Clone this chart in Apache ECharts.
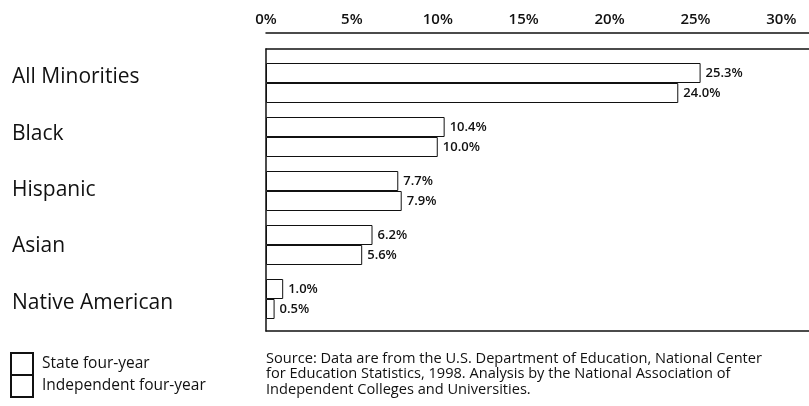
<!DOCTYPE html>
<html lang="en">
<head>
  <meta charset="UTF-8">
  <title>Minority enrollment</title>
  <script src="https://cdn.jsdelivr.net/npm/echarts@6/dist/echarts.min.js"></script>
  <style>
    html, body { margin: 0; padding: 0; background: #fff; }
    #chart { width: 809px; height: 406px; }
  </style>
</head>
<body>
<div id="chart"></div>
<script>
  var categories = ['All Minorities', 'Black', 'Hispanic', 'Asian', 'Native American'];
  var seriesNames = ['State four-year', 'Independent four-year'];
  var stateValues = [25.3, 10.4, 7.7, 6.2, 1.0];
  var independentValues = [24.0, 10.0, 7.9, 5.6, 0.5];
  var axisMax = 32.6;
  var tickStep = 5;
  var sourceNote = 'Source: Data are from the U.S. Department of Education, National Center\n' +
    'for Education Statistics, 1998. Analysis by the National Association of\n' +
    'Independent Colleges and Universities.';

  var font = '"Open Sans", "Noto Sans", sans-serif';
  var ink = '#111';

  var myChart = echarts.init(document.getElementById('chart'));

  function barSeries(name, values) {
    return {
      name: name,
      type: 'bar',
      xAxisIndex: 0,
      yAxisIndex: 0,
      data: values,
      barWidth: 20,
      barGap: '0%',
      itemStyle: { color: '#fff', borderColor: ink, borderWidth: 1 },
      label: {
        show: true,
        position: 'right',
        distance: 5,
        color: ink,
        fontFamily: font,
        fontSize: 13,
        fontWeight: 600,
        formatter: function (p) { return p.value.toFixed(1) + '%'; }
      },
      emphasis: { disabled: true }
    };
  }

  function legendFor(name, top) {
    return {
      orient: 'vertical',
      left: 10,
      top: top,
      padding: 0,
      itemWidth: 22,
      itemHeight: 22,
      icon: 'rect',
      selectedMode: false,
      textStyle: { color: ink, fontSize: 15.5, fontFamily: font, padding: [0, 0, 0, 4] },
      data: [name]
    };
  }

  // frame lines (top, bottom, left) come from the axes of grid 1
  function frameX(pos) {
    return {
      type: 'value', gridIndex: 1, position: pos, min: 0, max: axisMax,
      axisLine: { show: true, onZero: false, lineStyle: { color: ink, width: 1.5 } },
      axisTick: { show: false }, axisLabel: { show: false }, splitLine: { show: false }
    };
  }

  var option = {
    animation: false,
    backgroundColor: '#fff',
    textStyle: { fontFamily: font },
    grid: [
      { left: 266, width: 560, top: 56, height: 270, outerBoundsMode: 'none' },
      { left: 266, width: 560, top: 49, height: 282, outerBoundsMode: 'none' }
    ],
    xAxis: [
      {
        type: 'value',
        gridIndex: 0,
        position: 'top',
        offset: 23,
        min: 0,
        max: axisMax,
        interval: tickStep,
        axisLine: { show: true, onZero: false, lineStyle: { color: ink, width: 1.5 } },
        axisTick: { show: false },
        splitLine: { show: false },
        axisLabel: {
          margin: 6,
          color: ink,
          fontSize: 15,
          fontWeight: 600,
          fontFamily: font,
          formatter: function (v) { return v % tickStep === 0 ? v + '%' : ''; }
        }
      },
      frameX('top'),
      frameX('bottom')
    ],
    yAxis: [
      {
        type: 'category',
        gridIndex: 0,
        data: categories,
        inverse: true,
        show: false
      },
      {
        type: 'category',
        gridIndex: 1,
        data: categories,
        inverse: true,
        position: 'left',
        axisLine: { show: true, onZero: false, lineStyle: { color: ink, width: 1.5 } },
        axisTick: { show: false },
        splitLine: { show: false },
        axisLabel: {
          align: 'left',
          margin: 254,
          color: ink,
          fontSize: 21,
          fontWeight: 500,
          fontFamily: font
        }
      }
    ],
    legend: [
      legendFor(seriesNames[0], 352),
      legendFor(seriesNames[1], 374)
    ],
    series: [
      barSeries(seriesNames[0], stateValues),
      barSeries(seriesNames[1], independentValues)
    ],
    graphic: [
      {
        type: 'text',
        left: 266,
        top: 351,
        style: {
          text: sourceNote,
          fill: ink,
          font: '14.6px ' + font,
          lineHeight: 15.5
        }
      }
    ]
  };

  myChart.setOption(option);
</script>
</body>
</html>
